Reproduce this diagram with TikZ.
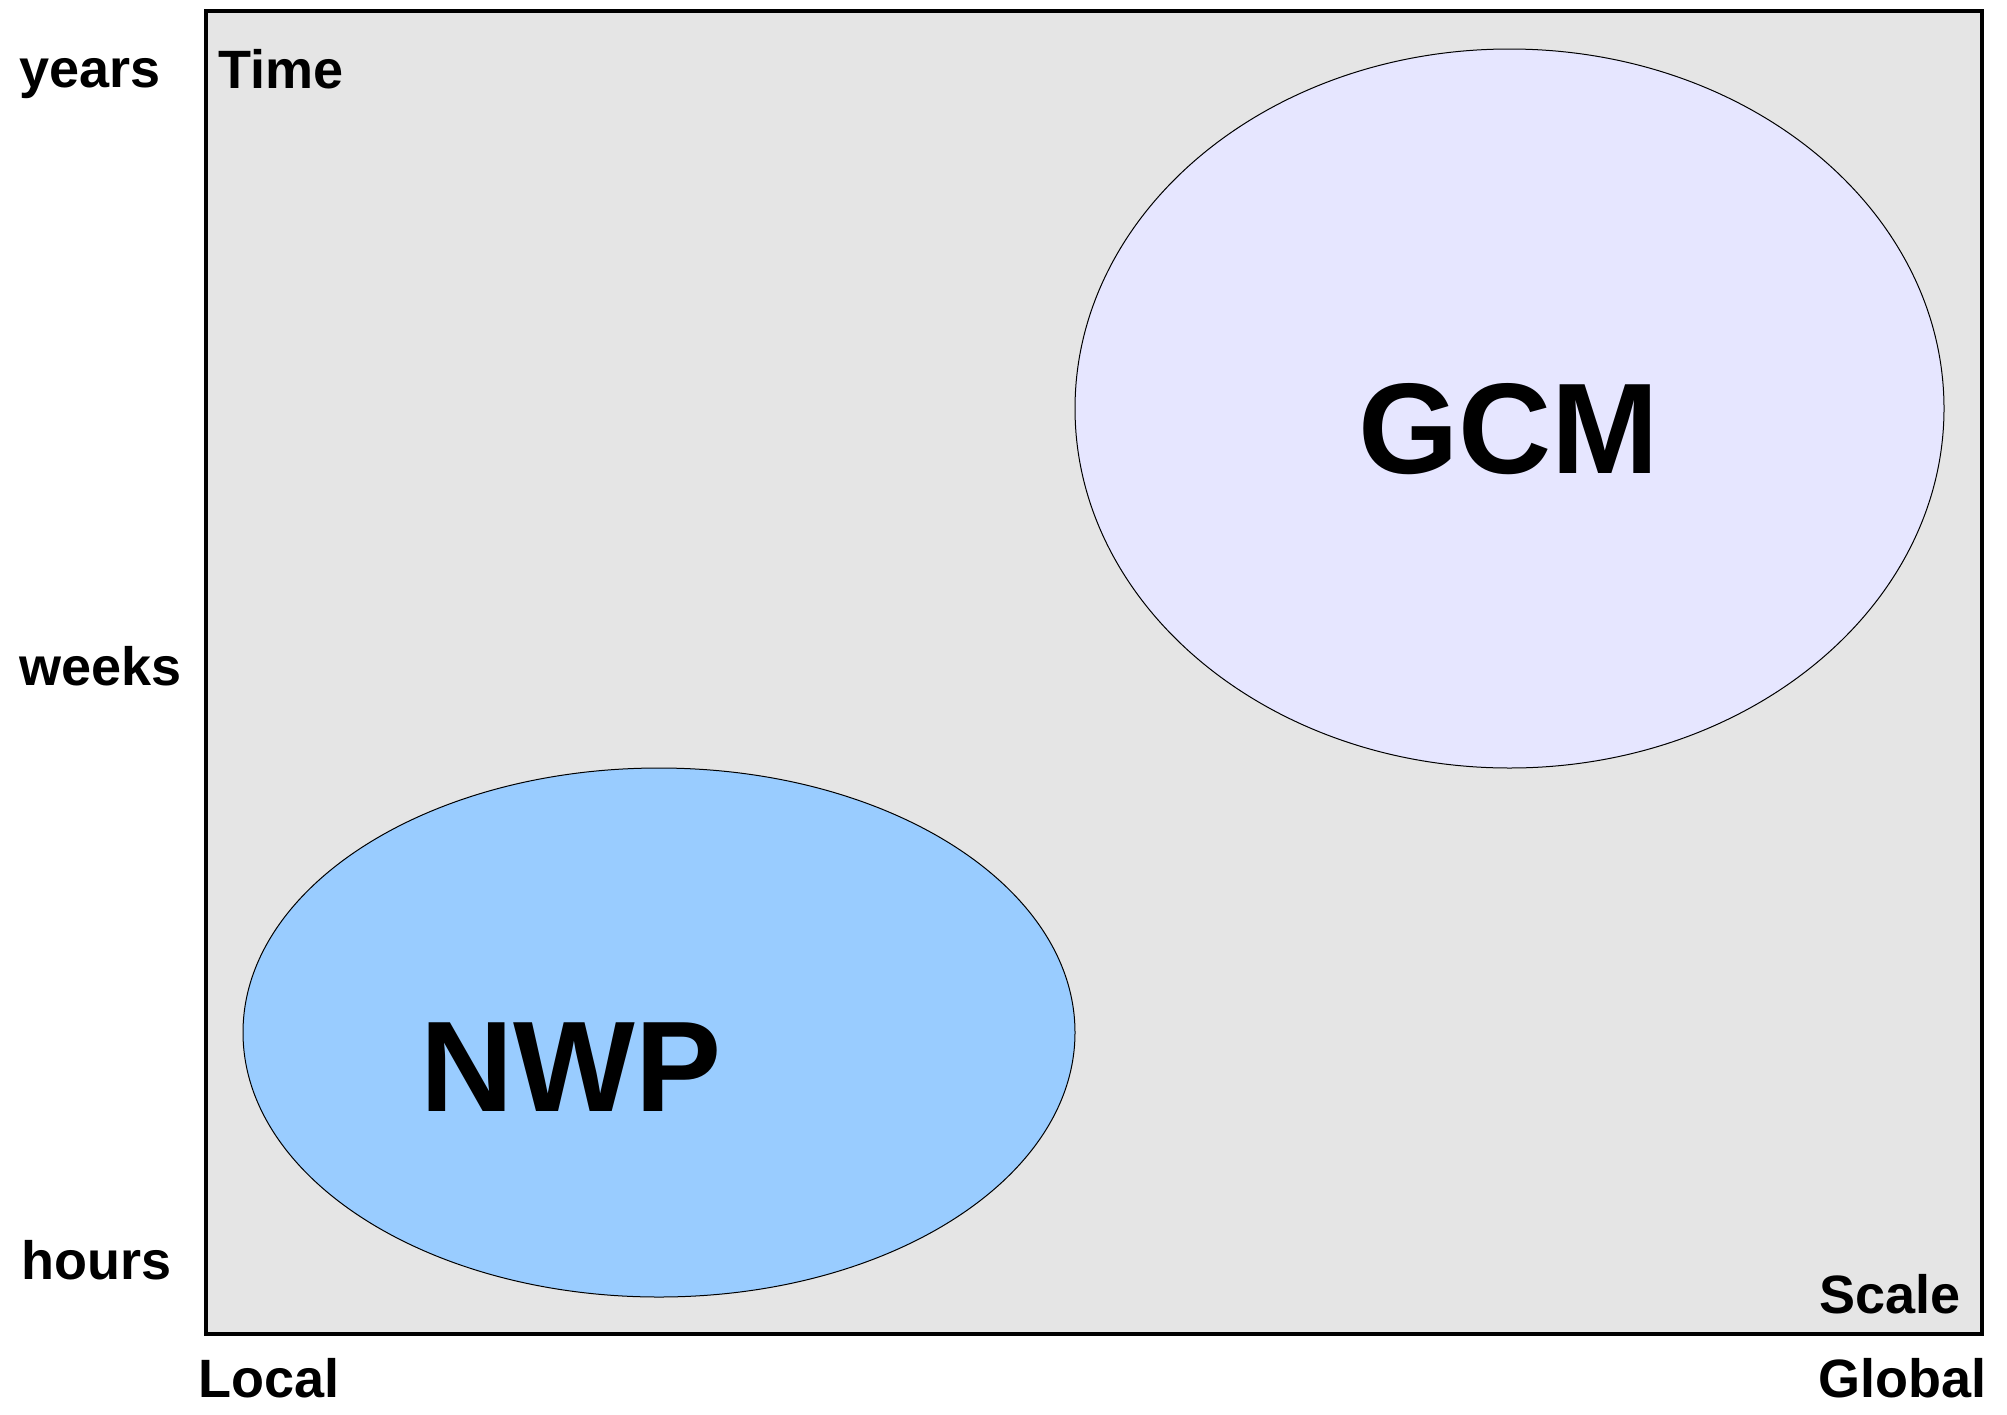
\documentclass[tikz,border=0pt]{standalone}
\usepackage{fontspec}
\setmainfont{Liberation Sans}
\usetikzlibrary{shapes.geometric}
\definecolor{panelgray}{HTML}{E5E5E5}
\definecolor{nwpblue}{HTML}{99CCFF}
\definecolor{gcmlilac}{HTML}{E6E6FF}
\tikzset{
  axislabel/.style={font=\fontsize{27pt}{31pt}\selectfont\bfseries, inner sep=0pt},
  modellabel/.style={font=\fontsize{64.5pt}{72pt}\selectfont\bfseries, inner sep=0pt},
  region/.style={ellipse, draw=black, line width=0.5pt, inner sep=0pt},
}
\begin{document}
\begin{tikzpicture}[x=0.5pt,y=-0.5pt]
  \useasboundingbox (0,0) rectangle (2007,1414);
  % plotting panel
  \node[draw=black, fill=panelgray, line width=1.8pt, inner sep=0pt,
        minimum width=1776*0.5pt, minimum height=1323*0.5pt] (frame) at (1094,672.5) {};
  % model regions
  \node[region, fill=nwpblue, minimum width=832*0.5pt, minimum height=529*0.5pt] (nwp) at (659,1032.5) {};
  \node[region, fill=gcmlilac, minimum width=869*0.5pt, minimum height=719*0.5pt] (gcm) at (1509.5,408.5) {};
  \node[modellabel, anchor=base west] (nwptext) at (420,1111) {NWP};
  \node[modellabel, anchor=base west] (gcmtext) at (1358,473) {GCM};
  % axis labels
  \node[axislabel, anchor=base west] (years) at (19,87) {years};
  \node[axislabel, anchor=base west] (weeks) at (19,685) {weeks};
  \node[axislabel, anchor=base west] (hours) at (21,1279) {hours};
  \node[axislabel, anchor=base west] (time) at (218,88) {Time};
  \node[axislabel, anchor=base east] (scale) at (1961,1313) {Scale};
  \node[axislabel, anchor=base west] (local) at (198,1397) {Local};
  \node[axislabel, anchor=base east] (global) at (1987,1397) {Global};
\end{tikzpicture}
\end{document}
